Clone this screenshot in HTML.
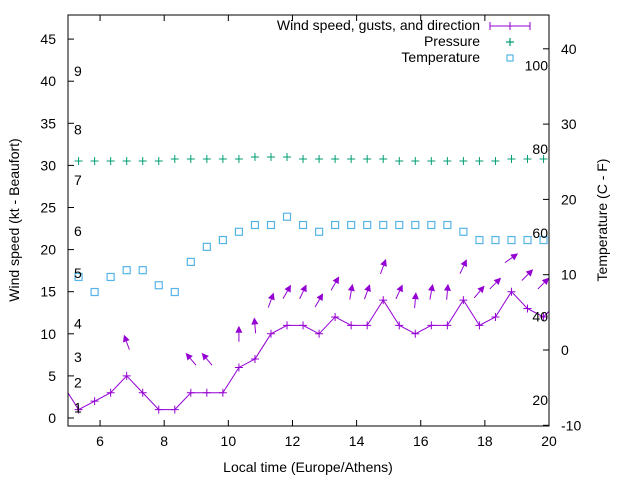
<!DOCTYPE html>
<html><head><meta charset="utf-8"><style>
body{margin:0;background:#fff}
svg{display:block;font-family:"Liberation Sans",sans-serif}
</style></head><body>
<svg id="chart" width="640" height="480" viewBox="0 0 640 480" xmlns="http://www.w3.org/2000/svg">
<rect width="640" height="480" fill="#fff"/>
<g id="marks"></g>
<g id="axes"></g>
<text x="308" y="472" font-size="14" text-anchor="middle">Local time (Europe/Athens)</text>
<text transform="translate(19,220) rotate(-90)" font-size="14" text-anchor="middle">Wind speed (kt - Beaufort)</text>
<text transform="translate(607,220) rotate(-90)" font-size="14" text-anchor="middle">Temperature (C - F)</text>
<g font-size="14">
<text x="480" y="30" text-anchor="end">Wind speed, gusts, and direction</text>
<path d="M490 26H530M490 22V30M530 22V30M510 22V30M506 26H514" stroke="#9400d3" stroke-width="1" fill="none"/>
<text x="480" y="46" text-anchor="end">Pressure</text>
<path d="M506 42H514M510 38V46" stroke="#009e73" stroke-width="1.2"/>
<text x="480" y="62" text-anchor="end">Temperature</text>
<rect x="507" y="55" width="6" height="6" fill="none" stroke="#56b4e9" stroke-width="1.2"/>
</g>
</svg>
<script>
const times=[4.83,5.33,5.83,6.33,6.83,7.33,7.83,8.33,8.83,9.33,9.83,10.33,10.83,11.33,11.83,12.33,12.83,13.33,13.83,14.33,14.83,15.33,15.83,16.33,16.83,17.33,17.83,18.33,18.83,19.33,19.83,20.33];
const wind=[4,1,2,3,5,3,1,1,3,3,3,6,7,10,11,11,10,12,11,11,14,11,10,11,11,14,11,12,15,13,12,14];
const gust=[null,null,null,null,9,null,null,null,7,7,null,10,11,14,15,15,14,16,15,15,18,15,14,15,15,18,15,16,19,17,16,null];
const direction=[null,null,null,null,-20,null,null,null,-40,-40,null,0,-5,20,30,25,30,30,10,20,20,25,5,10,5,25,40,45,55,45,45,null];
const pressure=[null,1013,1013,1013,1013,1013,1013,1014,1014,1014,1014,1014,1015,1015,1015,1014,1014,1014,1014,1014,1014,1013,1013,1013,1013,1013,1013,1013,1014,1014,1014,null];
const temperature=[null,9.7,7.7,9.7,10.6,10.6,8.6,7.7,11.7,13.7,14.6,15.7,16.6,16.6,17.7,16.6,15.7,16.6,16.6,16.6,16.6,16.6,16.6,16.6,16.6,15.7,14.6,14.6,14.6,14.6,14.6,null];
const xTicks=[6,8,10,12,14,16,18,20];
const yTicks=[0,5,10,15,20,25,30,35,40,45];
const y2Ticks=[-10,0,10,20,30,40];
const fTicks=[20,40,60,80,100];
const beaufort=[1,2,3,4,5,6,7,8,9];
const beaufortLo=[1,4,7,11,17,22,28,34,41];

const L=68,R=549,T=15,B=426;
const X=t=>L+(t-5)*(R-L)/15;
const Y=k=>418-k*8.42;
const Y2=c=>350-c*7.53;
const YP=p=>161-(p-1013)*2;
const NS='http://www.w3.org/2000/svg';
const marks=document.getElementById('marks'),axes=document.getElementById('axes');
function mk(tag,attrs,parent){const e=document.createElementNS(NS,tag);for(const k in attrs)e.setAttribute(k,attrs[k]);parent.appendChild(e);return e;}

const clip=mk('clipPath',{id:'pc'},marks);mk('rect',{x:L,y:T,width:R-L,height:B-T},clip);
const g=mk('g',{'clip-path':'url(#pc)'},marks);

// pressure
pressure.forEach((p,i)=>{if(p==null)return;const x=X(times[i]),y=YP(p);
const e=mk('path',{d:`M${x-4} ${y}H${x+4}M${x} ${y-4}V${y+4}`,stroke:'#009e73','stroke-width':1},g);

});
// temperature
temperature.forEach((c,i)=>{if(c==null)return;const x=X(times[i]),y=Y2(c);
const e=mk('rect',{x:x-3.5,y:y-3.5,width:7,height:7,fill:'none',stroke:'#56b4e9','stroke-width':1.2},g);

});
// wind line
const wl=mk('polyline',{points:wind.map((w,i)=>X(times[i])+','+Y(w)).join(' '),fill:'none',stroke:'#9400d3','stroke-width':1},g);


wind.forEach((w,i)=>{const x=X(times[i]),y=Y(w);
const e=mk('path',{d:`M${x-4} ${y}H${x+4}M${x} ${y-4}V${y+4}`,stroke:'#9400d3','stroke-width':1},g);

});
// gust arrows
gust.forEach((gv,i)=>{if(gv==null)return;const cx=X(times[i]),cy=Y(gv);const a=direction[i]*Math.PI/180;
const dx=Math.sin(a),dy=-Math.cos(a),len=16;
const x1=cx-dx*len/2,y1=cy-dy*len/2,x2=cx+dx*len/2,y2=cy+dy*len/2;
const hx=x2-dx*7,hy=y2-dy*7,px=-dy*3.5,py=dx*3.5;
const ag=mk('g',{},g);


mk('line',{x1,y1,x2:hx,y2:hy,stroke:'#9400d3','stroke-width':1},ag);
mk('path',{d:`M${x2} ${y2}L${hx+px} ${hy+py}L${hx-px} ${hy-py}Z`,fill:'#9400d3'},ag);});

// axes frame
const fr=mk('rect',{x:L,y:T,width:R-L,height:B-T,fill:'none',stroke:'#000','stroke-width':1},axes);


xTicks.forEach(t=>{const x=X(t);
mk('path',{d:`M${x} ${B}V${B-6}M${x} ${T}V${T+6}`,stroke:'#000'},axes);
const e=mk('text',{x,y:B+20,'font-size':14,'text-anchor':'middle'},axes);e.textContent=t;

});
yTicks.forEach(k=>{const y=Y(k);
mk('path',{d:`M${L} ${y}H${L+6}`,stroke:'#000'},axes);
const e=mk('text',{x:L-12,y:y+5,'font-size':14,'text-anchor':'end'},axes);e.textContent=k;

});
y2Ticks.forEach(c=>{const y=Y2(c);
mk('path',{d:`M${R} ${y}H${R-6}`,stroke:'#000'},axes);
const e=mk('text',{x:R+12,y:y+5,'font-size':14,'text-anchor':'start'},axes);e.textContent=c;

});
fTicks.forEach(f=>{const y=Y2((f-32)/1.8);
const e=mk('text',{x:R-1,y:y+5,'font-size':14,'text-anchor':'end'},axes);e.textContent=f;

});
beaufort.forEach((b,i)=>{const y=Y(beaufortLo[i])-2;
const e=mk('text',{x:74,y:y+5,'font-size':14},axes);e.textContent=b;

});
</script>
</body></html>
